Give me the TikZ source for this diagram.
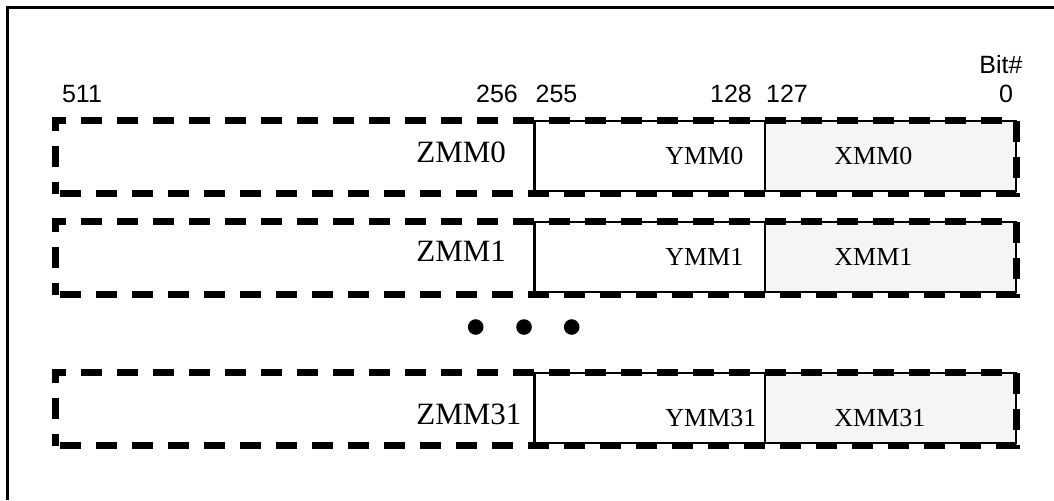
\documentclass[tikz,border=0pt]{standalone}
\usepackage{fontspec}
\setmainfont{Liberation Serif}
\newfontfamily\bitfont{Liberation Sans}
\usepackage{xcolor}
\definecolor{cLine}{HTML}{000000}
\definecolor{cXmm}{HTML}{F5F5F5}
\usepackage{tikz}
\usetikzlibrary{positioning}
\tikzset{
  reg-zmm/.style={draw=cLine,line width=3.5pt,dash pattern=on 10.5pt off 7.5pt,
    dash phase=15.75pt,inner sep=0pt,outer sep=0pt,
    minimum width=480.5pt,minimum height=36.5pt},
  reg-ymm/.style={draw=cLine,line width=1.25pt,fill=white,inner sep=0pt,
    outer sep=0pt,minimum width=115.25pt,minimum height=35pt},
  reg-xmm/.style={reg-ymm,fill=cXmm,minimum width=125.5pt},
  % register names: serif, bit numbers: sans
  reg-text/.style={anchor=west,inner sep=0pt,font=\fontsize{13}{15}\selectfont},
  zmm-text/.style={reg-text,font=\fontsize{15.5}{18}\selectfont},
  bit-label/.style={anchor=base,inner sep=0pt,font=\bitfont\fontsize{12.5}{15}\selectfont},
}
\begin{document}
\begin{tikzpicture}[x=0.5pt,y=-0.5pt]
  \useasboundingbox (0,0) rectangle (1054,500);
  \draw[line width=1.5pt,draw=cLine] (7,500) -- (7,7) -- (1054,7);

  % bit positions
  \node[bit-label] (b511) at (82,102) {511};
  \node[bit-label] (b256) at (497,102) {256};
  \node[bit-label] (b255) at (556.5,102) {255};
  \node[bit-label] (b128) at (731,102) {128};
  \node[bit-label] (b127) at (787,102) {127};
  \node[bit-label] (b0) at (1006,102) {0};
  \node[bit-label] (bit) at (1001,73) {Bit\#};

  % rows: index / centre / zmm text / ymm+xmm text
  \foreach \r/\yc/\zt/\yt in {0/157/152.5/156, 1/258/251.5/257, 31/409/414.5/418} {
    \node[reg-ymm] (ymm\r) at (649.75,\yc-1) {};
    \node[reg-xmm,right=0pt of ymm\r] (xmm\r) {};
    \node[reg-zmm] (zmm\r) at (535.5,\yc) {};
    \node[zmm-text] (zl\r) at (416,\zt) {ZMM\r};
    \node[reg-text] (yl\r) at (665,\yt) {YMM\r};
    \node[reg-text] (xl\r) at (834,\yt) {XMM\r};
  }

  \foreach \dx in {475.7,524,571.7}
    \fill[cLine] (\dx,327) circle[radius=3.9pt];
\end{tikzpicture}
\end{document}
